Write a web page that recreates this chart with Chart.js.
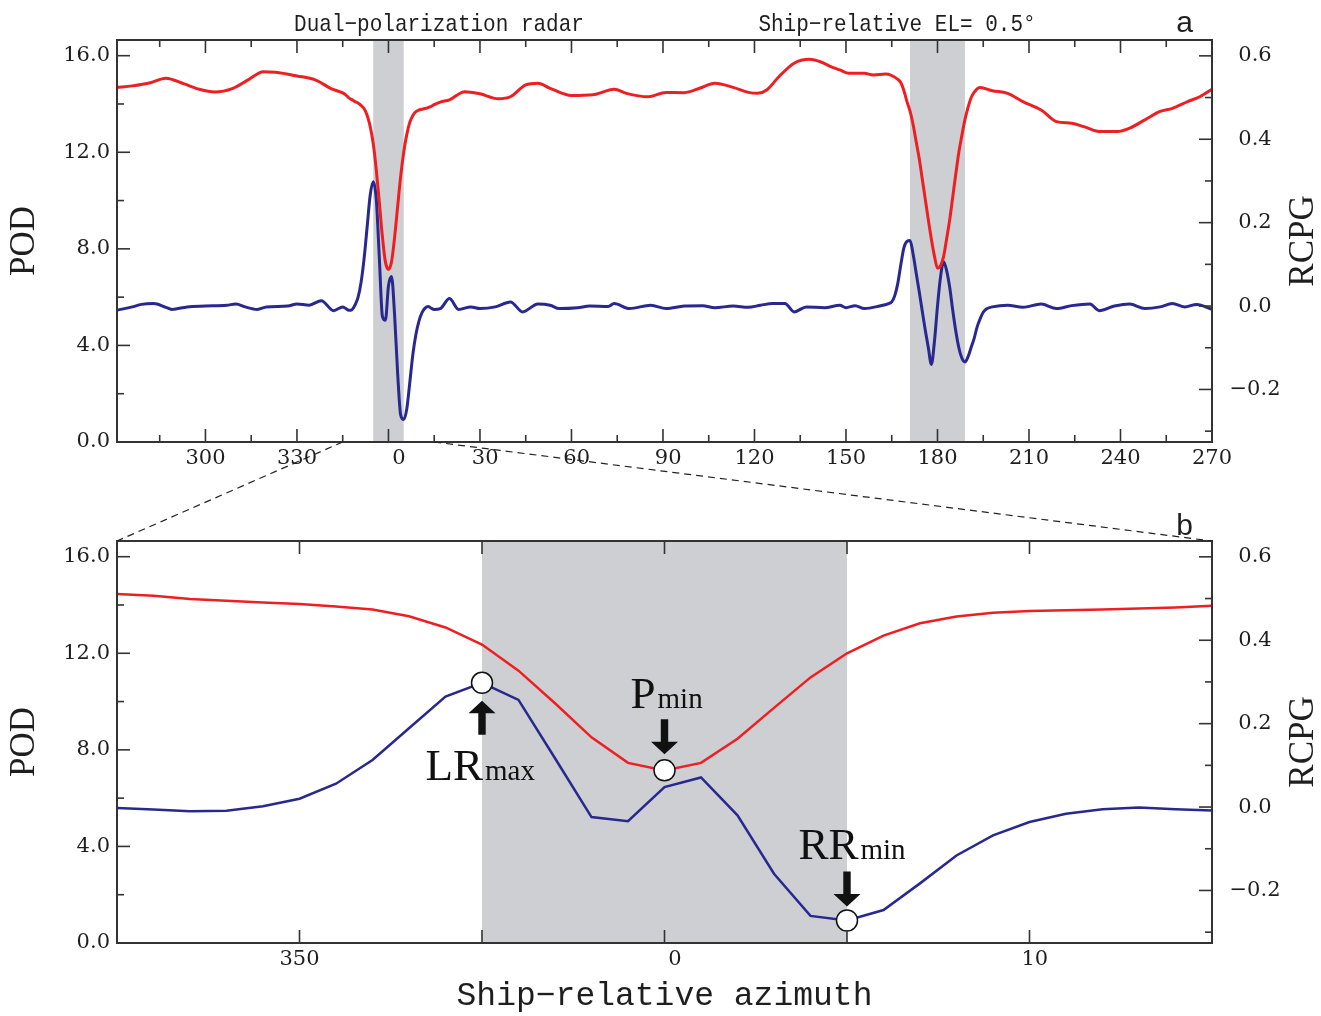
<!DOCTYPE html>
<html>
<head>
<meta charset="utf-8">
<script src="https://cdn.jsdelivr.net/npm/chart.js@4.4.1/dist/chart.umd.min.js"></script>
<style>
  html, body { margin: 0; padding: 0; background: #fff; }
  #wrap { position: relative; width: 1321px; height: 1016px; }
  #wrap canvas { position: absolute; left: 0; }
  #topChart { top: 0; }
  #bottomChart { top: 430px; }
</style>
</head>
<body>
<div id="wrap">
  <canvas id="topChart" width="1321" height="480"></canvas>
  <canvas id="bottomChart" width="1321" height="586"></canvas>
</div>
<script>
// panel a: POD (red) outside the zoom window, ship-relative azimuth in degrees (-89 .. 270)
const podAz = [-89, -84, -78, -73, -67, -62, -57, -51, -46, -41, -37, -30, -24, -19, -16,
  17, 20, 25, 30, 36, 40, 45, 49, 53, 60, 67, 74, 78, 85, 91, 97, 102, 107, 113, 118,
  121, 124, 128, 133, 138, 142, 145, 148, 151, 156, 159, 163, 167, 168, 169, 170, 171, 172, 173, 174,
  175, 176, 177, 178, 179, 180, 181, 182, 183, 184, 185, 186, 187, 188, 189, 190, 191, 192, 194, 198,
  203, 208, 214, 219, 224, 228, 233, 239, 243, 248, 253, 257, 262, 266, 270];
const podVal = [14.69, 14.75, 14.88, 15.07, 14.83, 14.61, 14.50, 14.65, 15.00, 15.34, 15.31, 15.16, 15.00, 14.65, 14.51,
  14.08, 14.17, 14.51, 14.42, 14.22, 14.30, 14.79, 14.86, 14.65, 14.35, 14.38, 14.61, 14.44, 14.30, 14.48, 14.47, 14.65, 14.86, 14.69, 14.48,
  14.44, 14.58, 15.13, 15.69, 15.85, 15.73, 15.55, 15.41, 15.27, 15.27, 15.20, 15.24, 15.02, 14.88, 14.55, 14.10, 13.70, 13.15, 12.45, 11.75,
  10.90, 10.05, 9.20, 8.40, 7.70, 7.20, 7.30, 7.68, 8.42, 9.20, 10.15, 11.10, 12.00, 12.70, 13.35, 13.85, 14.25, 14.48, 14.68, 14.55,
  14.44, 14.10, 13.75, 13.27, 13.20, 13.06, 12.86, 12.86, 13.00, 13.34, 13.69, 13.82, 14.10, 14.30, 14.61];

// panel a: RCPG (blue) outside the zoom window
const rcpgAz = [-89, -84, -81, -77, -73, -71, -66, -60, -53, -50, -47, -43, -40, -33, -30, -26, -22, -18,
  17, 20, 23, 27, 30, 35, 40, 44, 49, 53, 56, 62, 66, 72, 74, 79, 86, 91, 97, 103,
  107, 113, 118, 122, 126, 130, 133, 137, 143, 148, 150, 153, 156, 161, 164, 165, 166, 167, 168, 169,
  170, 171, 172, 173, 174, 175, 176, 177, 178, 179, 180, 181, 182, 183, 184, 185, 186, 187, 188, 189,
  190, 191, 192, 193, 194, 195, 196, 198, 203, 208, 214, 219, 224, 230, 233, 238, 243, 248, 253, 257,
  261, 265, 270];
const rcpgVal = [-0.010, -0.002, 0.004, 0.006, -0.003, -0.008, -0.002, 0.000, 0.002, 0.005, -0.002, -0.008, -0.002, 0.000, 0.005, 0.002, 0.013, -0.011,
  -0.006, 0.018, -0.008, -0.002, -0.006, -0.002, 0.010, -0.014, 0.005, 0.002, -0.006, -0.004, 0.000, -0.001, 0.006, -0.006, 0.002, -0.006, 0.000, 0.001,
  -0.004, 0.000, -0.003, 0.002, 0.006, 0.006, -0.014, -0.002, -0.004, 0.002, -0.004, 0.001, -0.006, 0.000, 0.006, 0.010, 0.025, 0.055, 0.100, 0.140,
  0.155, 0.157, 0.125, 0.080, 0.035, -0.012, -0.058, -0.100, -0.140, -0.085, 0.000, 0.070, 0.106, 0.085, 0.045, -0.010, -0.060, -0.100, -0.125, -0.134,
  -0.122, -0.100, -0.078, -0.050, -0.030, -0.015, -0.007, -0.002, 0.002, -0.003, 0.005, -0.006, 0.001, 0.005, -0.011, 0.000, 0.005, -0.006, -0.002, 0.006,
  -0.002, 0.004, -0.008];

// panel b: zoom window 345..15 degrees, 1 degree steps (also used in panel a)
const zoomAz = [-15, -14, -13, -12, -11, -10, -9, -8, -7, -6, -5, -4, -3, -2, -1, 0,
  1, 2, 3, 4, 5, 6, 7, 8, 9, 10, 11, 12, 13, 14, 15];
const zoomPod = [14.46, 14.38, 14.25, 14.18, 14.10, 14.04, 13.94, 13.81, 13.53, 13.07, 12.36, 11.28, 9.93, 8.52, 7.46, 7.15,
  7.46, 8.46, 9.74, 11.00, 12.00, 12.73, 13.24, 13.52, 13.68, 13.75, 13.78, 13.81, 13.85, 13.90, 13.97];
const zoomRcpg = [-0.002, -0.006, -0.010, -0.009, 0.002, 0.020, 0.056, 0.113, 0.189, 0.265, 0.298, 0.257, 0.117, -0.024, -0.034, 0.048,
  0.071, -0.020, -0.160, -0.261, -0.272, -0.247, -0.183, -0.116, -0.068, -0.036, -0.016, -0.005, -0.001, -0.005, -0.008];

// shaded sectors
const shadeFrom = [-5, 171];
const shadeTo = [5, 189];

// tick labels
const topTickAz = [-60, -30, 0, 30, 60, 90, 120, 150, 180, 210, 240, 270];
const topTickLabels = ["300", "330", "0", "30", "60", "90", "120", "150", "180", "210", "240", "270"];
const zoomTickAz = [-10, 0, 10];
const zoomTickLabels = ["350", "0", "10"];
const podTicks = [0, 4, 8, 12, 16];
const podTickLabels = ["0.0", "4.0", "8.0", "12.0", "16.0"];
const rcpgTicks = [-0.2, 0, 0.2, 0.4, 0.6];
const rcpgTickLabels = ["\u22120.2", "0.0", "0.2", "0.4", "0.6"];

const RED = "#ee1f22";
const BLUE = "#28288e";
const SHADE = "#cdcfd2";
const INK = "#1e1e1e";
const FRAME = "#333";
const tickFont = { family: "DejaVu Serif", size: 21 };

const pad3 = (s) => "\u2002".repeat(Math.max(0, 3 - s.length)) + s;
const pts = (xs, ys) => xs.map((x, i) => ({ x: x, y: ys[i] }));

// box, inward ticks, shading, RCPG title and free texts
const framePlugin = {
  id: "frame",
  beforeDatasetsDraw(chart) {
    const { ctx, chartArea: a } = chart;
    const sx = chart.scales.x;
    ctx.save();
    ctx.fillStyle = SHADE;
    shadeFrom.forEach((from, i) => {
      const x0 = Math.max(a.left, sx.getPixelForValue(from));
      const x1 = Math.min(a.right, sx.getPixelForValue(shadeTo[i]));
      if (x1 > x0) ctx.fillRect(x0, a.top, x1 - x0, a.bottom - a.top);
    });
    ctx.restore();
  },
  afterDatasetsDraw(chart, args, o) {
    const { ctx, chartArea: a, scales } = chart;
    ctx.save();
    ctx.strokeStyle = FRAME;
    ctx.lineWidth = 1.6;
    const seg = (x0, y0, x1, y1) => {
      ctx.beginPath();
      ctx.moveTo(x0, y0);
      ctx.lineTo(x1, y1);
      ctx.stroke();
    };
    const xt = (vals, len) => vals.forEach((v) => {
      const x = scales.x.getPixelForValue(v);
      seg(x, a.bottom, x, a.bottom - len);
      seg(x, a.top, x, a.top + len);
    });
    const yl = (vals, len) => vals.forEach((v) => {
      const y = scales.y.getPixelForValue(v);
      seg(a.left, y, a.left + len, y);
    });
    const yr = (vals, len) => vals.forEach((v) => {
      const y = scales.y2.getPixelForValue(v);
      seg(a.right, y, a.right - len, y);
    });
    xt(o.xMajor, 13);
    xt(o.xMinor, 7);
    yl(podTicks, 13);
    yl([2, 6, 10, 14], 7);
    yr(rcpgTicks, 13);
    yr([-0.3, -0.1, 0.1, 0.3, 0.5], 7);
    ctx.lineWidth = 2;
    ctx.strokeRect(a.left, a.top, a.right - a.left, a.bottom - a.top);

    ctx.fillStyle = INK;
    ctx.textBaseline = "alphabetic";
    o.texts.forEach((t) => {
      ctx.save();
      ctx.font = t.font;
      ctx.textAlign = "center";
      ctx.translate(t.x, t.y);
      ctx.scale(t.sx || 1, 1);
      ctx.fillText(t.text, 0, 0);
      ctx.restore();
    });

    ctx.font = "35px 'Liberation Serif'";
    ctx.textAlign = "center";
    ctx.textBaseline = "middle";
    ctx.translate(a.right + 92, (a.top + a.bottom) / 2);
    ctx.rotate(-Math.PI / 2);
    ctx.fillText("RCPG", 0, 0);
    ctx.restore();
  }
};

function panelOptions(p) {
  return {
    responsive: false,
    animation: false,
    events: [],
    layout: { padding: { top: p.padTop, left: 0, right: 0, bottom: 0 } },
    plugins: {
      legend: { display: false },
      tooltip: { enabled: false },
      frame: { xMajor: p.xMajor, xMinor: p.xMinor, texts: p.texts }
    },
    scales: {
      x: {
        type: "linear",
        min: p.xMin,
        max: p.xMax,
        grid: { display: false, drawTicks: false },
        border: { display: false },
        afterBuildTicks: (s) => { s.ticks = p.xTicks.map((v) => ({ value: v })); },
        afterFit: (s) => { s.height = p.xHeight; },
        ticks: {
          font: tickFont, color: INK, padding: 4.4, autoSkip: false, maxRotation: 0,
          callback: (v, i) => pad3(p.xLabels[i])
        },
        title: p.xTitle
          ? { display: true, text: p.xTitle, color: INK, font: { family: "Liberation Mono", size: 33 }, padding: { top: 0, bottom: 0 } }
          : { display: false }
      },
      y: {
        position: "left",
        min: 0,
        max: 16.65,
        grid: { display: false, drawTicks: false },
        border: { display: false },
        afterBuildTicks: (s) => { s.ticks = podTicks.map((v) => ({ value: v })); },
        afterFit: (s) => { s.width = 117; },
        ticks: { font: tickFont, color: INK, padding: 7, crossAlign: "near", callback: (v, i) => podTickLabels[i] },
        title: { display: true, text: "POD", color: INK, font: { family: "Liberation Serif", size: 35 }, padding: { top: 4, bottom: 0 } }
      },
      y2: {
        position: "right",
        min: -0.326,
        max: 0.638,
        grid: { display: false, drawTicks: false },
        border: { display: false },
        afterBuildTicks: (s) => { s.ticks = rcpgTicks.map((v) => ({ value: v })); },
        afterFit: (s) => { s.width = 109; },
        ticks: { font: tickFont, color: INK, padding: 17.5, crossAlign: "center", callback: (v, i) => rcpgTickLabels[i] }
      }
    }
  };
}

// panel a
const topPod = pts(podAz, podVal).concat(pts(zoomAz, zoomPod)).sort((p, q) => p.x - q.x);
const topRcpg = pts(rcpgAz, rcpgVal).concat(pts(zoomAz, zoomRcpg)).sort((p, q) => p.x - q.x);

const topChart = new Chart(document.getElementById("topChart"), {
  type: "line",
  data: {
    datasets: [
      { label: "POD", data: topPod, yAxisID: "y", borderColor: RED, borderWidth: 3, pointRadius: 0, cubicInterpolationMode: "monotone" },
      { label: "RCPG", data: topRcpg, yAxisID: "y2", borderColor: BLUE, borderWidth: 3, pointRadius: 0, cubicInterpolationMode: "monotone" }
    ]
  },
  options: panelOptions({
    padTop: 40, xMin: -89, xMax: 270, xHeight: 38,
    xTicks: topTickAz, xLabels: topTickLabels,
    xMajor: topTickAz, xMinor: topTickAz.map((v) => v - 15).filter((v) => v > -89),
    texts: [
      { text: "Dual\u2212polarization radar", x: 439, y: 31, font: "24px 'Liberation Mono'", sx: 0.875 },
      { text: "Ship\u2212relative EL= 0.5\u00b0", x: 897, y: 31, font: "24px 'Liberation Mono'", sx: 0.875 },
      { text: "a", x: 1184.5, y: 32, font: "30px 'Liberation Sans'" }
    ]
  }),
  plugins: [framePlugin]
});

// panel b markers
const iLR = zoomRcpg.indexOf(Math.max(...zoomRcpg));
const iP = zoomPod.indexOf(Math.min(...zoomPod));
const iRR = zoomRcpg.indexOf(Math.min(...zoomRcpg));

function arrow(ctx, x, yTail, yTip) {
  const dir = Math.sign(yTip - yTail);
  const yBase = yTip - dir * 12.5;
  ctx.beginPath();
  ctx.moveTo(x - 3.7, yTail);
  ctx.lineTo(x + 3.7, yTail);
  ctx.lineTo(x + 3.7, yBase);
  ctx.lineTo(x + 13.5, yBase);
  ctx.lineTo(x, yTip);
  ctx.lineTo(x - 13.5, yBase);
  ctx.lineTo(x - 3.7, yBase);
  ctx.closePath();
  ctx.fill();
}

function subLabel(ctx, main, sub, x, y, alignEnd) {
  ctx.font = "45px 'Liberation Serif'";
  const w = ctx.measureText(main).width;
  const x0 = alignEnd ? x - w : x;
  ctx.textAlign = "left";
  ctx.fillText(main, x0, y);
  ctx.font = "29px 'Liberation Serif'";
  ctx.fillText(sub, x0 + w + 2, y);
}

const zoomNotes = {
  id: "zoomNotes",
  afterDraw(chart) {
    const { ctx, chartArea: a, scales } = chart;
    ctx.save();
    ctx.fillStyle = "#111";
    ctx.textBaseline = "alphabetic";

    const lx = scales.x.getPixelForValue(zoomAz[iLR]);
    const ly = scales.y2.getPixelForValue(zoomRcpg[iLR]);
    arrow(ctx, lx, ly + 52, ly + 18);
    subLabel(ctx, "LR", "max", lx + 1, ly + 97, true);

    const px = scales.x.getPixelForValue(zoomAz[iP]);
    const py = scales.y.getPixelForValue(zoomPod[iP]);
    arrow(ctx, px, py - 51, py - 16);
    subLabel(ctx, "P", "min", px - 34, py - 62, false);

    const rx = scales.x.getPixelForValue(zoomAz[iRR]);
    const ry = scales.y2.getPixelForValue(zoomRcpg[iRR]);
    arrow(ctx, rx, ry - 49, ry - 14);
    subLabel(ctx, "RR", "min", rx - 48.6, ry - 61, false);

    // dashed zoom lines back to panel a
    const off = chart.canvas.offsetTop - topChart.canvas.offsetTop;
    const ya = topChart.chartArea.bottom - off;
    const xl = topChart.scales.x.getPixelForValue(zoomAz[0]);
    const xr = topChart.scales.x.getPixelForValue(zoomAz[zoomAz.length - 1]);
    ctx.strokeStyle = "#222";
    ctx.lineWidth = 1.2;
    ctx.setLineDash([7, 5]);
    ctx.beginPath();
    ctx.moveTo(xl, ya);
    ctx.lineTo(a.left, a.top);
    ctx.moveTo(xr, ya);
    ctx.lineTo(a.right, a.top);
    ctx.stroke();
    ctx.restore();
  }
};

const bottomChart = new Chart(document.getElementById("bottomChart"), {
  type: "line",
  data: {
    datasets: [
      {
        label: "P min", data: [{ x: zoomAz[iP], y: zoomPod[iP] }], yAxisID: "y", showLine: false,
        pointRadius: 10.5, pointBackgroundColor: "#fff", pointBorderColor: "#111", pointBorderWidth: 1.5
      },
      {
        label: "LR max / RR min", data: [{ x: zoomAz[iLR], y: zoomRcpg[iLR] }, { x: zoomAz[iRR], y: zoomRcpg[iRR] }],
        yAxisID: "y2", showLine: false,
        pointRadius: 10.5, pointBackgroundColor: "#fff", pointBorderColor: "#111", pointBorderWidth: 1.5
      },
      { label: "POD", data: pts(zoomAz, zoomPod), yAxisID: "y", borderColor: RED, borderWidth: 2.5, pointRadius: 0, tension: 0 },
      { label: "RCPG", data: pts(zoomAz, zoomRcpg), yAxisID: "y2", borderColor: BLUE, borderWidth: 2.5, pointRadius: 0, tension: 0 }
    ]
  },
  options: panelOptions({
    padTop: 111, xMin: -15, xMax: 15, xHeight: 73,
    xTicks: zoomTickAz, xLabels: zoomTickLabels,
    xMajor: [-10, -5, 0, 5, 10], xMinor: [],
    xTitle: "Ship\u2212relative azimuth",
    texts: [
      { text: "b", x: 1184.5, y: 105, font: "30px 'Liberation Sans'" }
    ]
  }),
  plugins: [framePlugin, zoomNotes]
});
</script>
</body>
</html>
